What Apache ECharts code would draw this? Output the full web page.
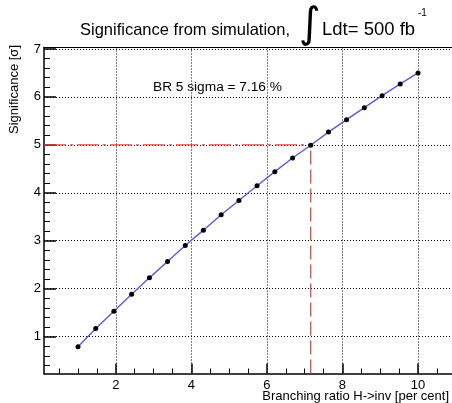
<!DOCTYPE html>
<html><head><meta charset="utf-8">
<script src="https://cdn.jsdelivr.net/npm/echarts@6/dist/echarts.min.js"></script>
<style>html,body{margin:0;padding:0;background:#fff}#c{width:452px;height:403px}</style>
</head><body><div id="c"></div>
<script>
// ---- data ----
const branchingRatio = [1.00, 1.47, 1.95, 2.42, 2.89, 3.37, 3.84, 4.32, 4.79, 5.26, 5.74, 6.21, 6.68, 7.16, 7.63, 8.11, 8.58, 9.05, 9.53, 10.00];
const significance   = [0.79, 1.17, 1.53, 1.885, 2.225, 2.565, 2.90, 3.22, 3.54, 3.84, 4.145, 4.44, 4.725, 4.99, 5.265, 5.525, 5.775, 6.025, 6.27, 6.50];
const xTickLabels = [2, 4, 6, 8, 10];
const xMinorTicks = [0.5, 1, 1.5, 2.5, 3, 3.5, 4.5, 5, 5.5, 6.5, 7, 7.5, 8.5, 9, 9.5, 10.5];
const yTickLabels = [1, 2, 3, 4, 5, 6, 7];
const yMinorTicks = [0.4, 0.6, 0.8, 1.2, 1.4, 1.6, 1.8, 2.2, 2.4, 2.6, 2.8, 3.2, 3.4, 3.6, 3.8, 4.2, 4.4, 4.6, 4.8, 5.2, 5.4, 5.6, 5.8, 6.2, 6.4, 6.6, 6.8];
const xRange = [0.1, 10.9];
const yRange = [0.23, 7.03];
const br5sigma = 7.16;
const sigma5 = 5;

const FONT = 'Liberation Sans, Arial, Helvetica, sans-serif';
const chart = echarts.init(document.getElementById('c'), null, {renderer: 'canvas'});
const pts = branchingRatio.map((x, i) => [x, significance[i]]);
const dotted = {color: '#000', width: 1, type: [1, 2]};

chart.setOption({
  animation: false,
  backgroundColor: '#fff',
  grid: {left: 44, right: 0, top: 47.5, bottom: 29.5, containLabel: false, outerBoundsMode: 'none'},
  xAxis: [
    {type: 'value', min: xRange[0], max: xRange[1], position: 'bottom',
     axisLine: {show: true, onZero: false, lineStyle: {color: '#000', width: 1.5}},
     axisTick: {show: true, inside: true, length: 10, customValues: xTickLabels, lineStyle: {color: '#000', width: 1.5}},
     axisLabel: {show: true, customValues: xTickLabels, color: '#000', fontFamily: FONT, fontSize: 13, margin: 5},
     splitLine: {show: true, lineStyle: dotted}},
    {type: 'value', min: xRange[0], max: xRange[1], position: 'bottom',
     axisLine: {show: false, onZero: false},
     axisTick: {show: true, inside: true, length: 5, customValues: xMinorTicks, lineStyle: {color: '#000', width: 1}},
     axisLabel: {show: false}, splitLine: {show: false}},
    {type: 'value', min: xRange[0], max: xRange[1], position: 'top',
     axisLine: {show: true, onZero: false, lineStyle: {color: '#000', width: 1}},
     axisTick: {show: false}, axisLabel: {show: false}, splitLine: {show: false}}
  ],
  yAxis: [
    {type: 'value', min: yRange[0], max: yRange[1], position: 'left',
     axisLine: {show: true, onZero: false, lineStyle: {color: '#000', width: 1.5}},
     axisTick: {show: true, inside: true, length: 12, customValues: yTickLabels, lineStyle: {color: '#000', width: 1.5}},
     axisLabel: {show: true, customValues: yTickLabels, color: '#000', fontFamily: FONT, fontSize: 13, margin: 3},
     splitLine: {show: true, lineStyle: dotted}},
    {type: 'value', min: yRange[0], max: yRange[1], position: 'left',
     axisLine: {show: false, onZero: false},
     axisTick: {show: true, inside: true, length: 6, customValues: yMinorTicks, lineStyle: {color: '#000', width: 1}},
     axisLabel: {show: false}, splitLine: {show: false}}
  ],
  series: [
    {type: 'line', xAxisIndex: 0, yAxisIndex: 0, data: [[xRange[0], sigma5], [br5sigma, sigma5]],
     symbol: 'none', silent: true, z: 3,
     lineStyle: {color: '#e04848', width: 1.3, type: [22, 4, 3, 4]}},
    {type: 'line', xAxisIndex: 0, yAxisIndex: 0, data: [[br5sigma, yRange[0]], [br5sigma, sigma5]],
     symbol: 'none', silent: true, z: 3,
     lineStyle: {color: '#e04848', width: 1.3, type: [14, 5]}},
    {type: 'line', xAxisIndex: 0, yAxisIndex: 0, data: pts,
     symbol: 'circle', symbolSize: 5, showSymbol: true, z: 5,
     itemStyle: {color: '#000'},
     lineStyle: {color: '#5a5ae8', width: 1.4}}
  ],
  graphic: [
    {type: 'text', x: 80, y: 22, style: {text: 'Significance from simulation,', font: '16.5px ' + FONT, fill: '#000'}},
    {type: 'text', x: 299, y: 26, style: {text: '\u222B', font: '42px ' + 'DejaVu Sans, sans-serif', fill: '#000', textVerticalAlign: 'middle'}},
    {type: 'text', x: 322, y: 20.5, style: {text: 'Ldt= 500 fb', font: '18.5px ' + FONT, fill: '#000'}},
    {type: 'text', x: 418, y: 8.5, style: {text: '-1', font: '10px ' + FONT, fill: '#000'}},
    {type: 'text', left: 153, top: 80, style: {text: 'BR 5 sigma = 7.16 %', font: '13.7px ' + FONT, fill: '#000'}},
    {type: 'text', x: 14, y: 45, rotation: Math.PI / 2,
     style: {text: 'Significance [\u03C3]', font: '13px ' + FONT, fill: '#000', textAlign: 'right', textVerticalAlign: 'middle'}},
    {type: 'text', x: 449, y: 396,
     style: {text: 'Branching ratio H->inv [per cent]', font: '13px ' + FONT, fill: '#000', textAlign: 'right', textVerticalAlign: 'middle'}}
  ]
});
</script></body></html>
